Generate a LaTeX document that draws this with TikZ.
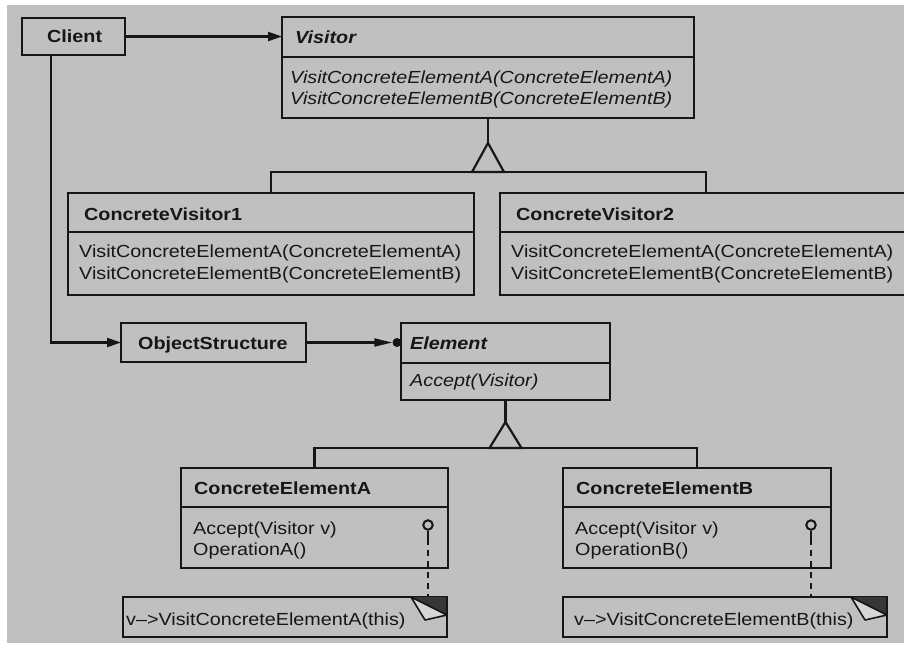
\documentclass[tikz,border=0pt]{standalone}
\usepackage{fontspec}
\setmainfont[FakeStretch=1.13]{Liberation Sans}
\usetikzlibrary{arrows.meta}
\definecolor{paper}{RGB}{192,192,192}
\definecolor{ink}{RGB}{22,22,22}
\definecolor{fold}{RGB}{55,55,55}
\definecolor{flap}{RGB}{214,214,214}
\begin{document}
\begin{tikzpicture}[x=1pt,y=-1pt,
  every node/.style={font=\fontsize{17.5}{22}\selectfont, text=ink},
  box/.style={draw=ink, line width=2.2pt, anchor=north west, inner sep=0pt, outer sep=0pt},
  txt/.style={anchor=base west, inner sep=0pt},
  wire/.style={draw=ink, line width=2.2pt},
  arr/.style={wire, -{Triangle[length=14pt,width=9pt]}},
  arrlong/.style={wire, -{Triangle[length=18pt,width=8pt]}},
  lolly/.style={circle, draw=ink, line width=2pt, minimum size=9.5pt, inner sep=0pt},
  dotnode/.style={circle, fill=ink, minimum size=9pt, inner sep=0pt},
  dashline/.style={draw=ink, line width=2.2pt, dash pattern=on 6pt off 5pt}]
\useasboundingbox (0,0) rectangle (904,651);
\clip (0,0) rectangle (904,651);
\fill[white] (0,0) rectangle (904,651);
\fill[paper] (7,5) rectangle (904,643);

% boxes
\node[box, minimum width=103pt, minimum height=37pt] (client) at (22,18) {};
\node[box, minimum width=412pt, minimum height=101pt] (visitor) at (282,17) {};
\node[box, minimum width=406pt, minimum height=102pt] (cv1) at (68,193) {};
\node[box, minimum width=412pt, minimum height=102pt] (cv2) at (500,193) {};
\node[box, minimum width=185pt, minimum height=39pt] (objstr) at (121,323) {};
\node[box, minimum width=209pt, minimum height=77pt] (element) at (401,323) {};
\node[box, minimum width=267pt, minimum height=100pt] (cea) at (181,468) {};
\node[box, minimum width=268pt, minimum height=100pt] (ceb) at (563,468) {};
\node[box, minimum width=324pt, minimum height=40pt] (notea) at (123,597) {};
\node[box, minimum width=324pt, minimum height=40pt] (noteb) at (563,597) {};

% compartment dividers
\draw[wire] (visitor.west |- 0,57) -- (visitor.east |- 0,57);
\draw[wire] (cv1.west |- 0,232) -- (cv1.east |- 0,232);
\draw[wire] (cv2.west |- 0,232) -- (cv2.east |- 0,232);
\draw[wire] (element.west |- 0,363) -- (element.east |- 0,363);
\draw[wire] (cea.west |- 0,507) -- (cea.east |- 0,507);
\draw[wire] (ceb.west |- 0,507) -- (ceb.east |- 0,507);

% texts
\node[txt] (tclient) at (47,42) {\bfseries Client};
\node[txt] (tvisitor) at (295,43) {\bfseries\itshape Visitor};
\node[txt] (tvop1) at (290,83) {\itshape VisitConcreteElementA(ConcreteElementA)};
\node[txt] (tvop2) at (290,104) {\itshape VisitConcreteElementB(ConcreteElementB)};
\node[txt] (tcv1) at (84,220) {\bfseries ConcreteVisitor1};
\node[txt] (tcv1a) at (79,257) {VisitConcreteElementA(ConcreteElementA)};
\node[txt] (tcv1b) at (79,279) {VisitConcreteElementB(ConcreteElementB)};
\node[txt] (tcv2) at (516,220) {\bfseries ConcreteVisitor2};
\node[txt] (tcv2a) at (511,257) {VisitConcreteElementA(ConcreteElementA)};
\node[txt] (tcv2b) at (511,279) {VisitConcreteElementB(ConcreteElementB)};
\node[txt] (tobj) at (138,349) {\bfseries ObjectStructure};
\node[txt] (telem) at (410,349) {\bfseries\itshape Element};
\node[txt] (telop) at (410,386) {\itshape Accept(Visitor)};
\node[txt] (tcea) at (194,494) {\bfseries ConcreteElementA};
\node[txt] (tcea1) at (193,534) {Accept(Visitor v)};
\node[txt] (tcea2) at (193,555) {OperationA()};
\node[txt] (tceb) at (576,494) {\bfseries ConcreteElementB};
\node[txt] (tceb1) at (575,534) {Accept(Visitor v)};
\node[txt] (tceb2) at (575,555) {OperationB()};
\node[txt] (tnotea) at (126,625) {v–>VisitConcreteElementA(this)};
\node[txt] (tnoteb) at (574,625) {v–>VisitConcreteElementB(this)};

% associations
\draw[arr] (client.east) -- (visitor.west |- client.east);
\draw[arr] ([xshift=29pt]client.south west) |- (objstr.west);
\node[dotnode] (dot) at ([xshift=-4pt]element.west |- objstr.east) {};
\draw[arrlong] (objstr.east) -- (dot.west);

% inheritance Visitor
\draw[wire] (visitor.south) -- ++(0,25) coordinate (vapex);
\draw[wire, line join=miter] (vapex) -- ++(-16,29) -- ++(32,0) -- cycle;
\draw[wire] (cv1.north) -- ++(0,-21) -| (cv2.north);

% inheritance Element
\draw[wire] (element.south) -- ++(0,22) coordinate (eapex);
\draw[wire, line join=miter] (eapex) -- ++(-16,26) -- ++(32,0) -- cycle;
\draw[wire] (cea.north) -- ++(0,-20) -| (ceb.north);

% note links
\node[lolly] (la) at (428,525) {};
\draw[wire] (la.south) -- ++(0,8) coordinate (la2);
\draw[dashline] (la2) -- (la2 |- notea.north);
\node[lolly] (lb) at (811,525) {};
\draw[wire] (lb.south) -- ++(0,8) coordinate (lb2);
\draw[dashline] (lb2) -- (lb2 |- noteb.north);

% folded corners
\fill[fold] ([xshift=-36pt]notea.north east) -- (notea.north east) -- ([yshift=-18pt]notea.north east) -- cycle;
\draw[wire, line width=1.6pt, fill=flap, line join=round] ([xshift=-36pt]notea.north east) -- ([yshift=-18pt]notea.north east) -- ([xshift=-22pt,yshift=-23pt]notea.north east) -- cycle;
\fill[fold] ([xshift=-36pt]noteb.north east) -- (noteb.north east) -- ([yshift=-18pt]noteb.north east) -- cycle;
\draw[wire, line width=1.6pt, fill=flap, line join=round] ([xshift=-36pt]noteb.north east) -- ([yshift=-18pt]noteb.north east) -- ([xshift=-22pt,yshift=-23pt]noteb.north east) -- cycle;
\draw[wire] (notea.north east) -- (notea.south east);
\draw[wire] (noteb.north east) -- (noteb.south east);
\end{tikzpicture}
\end{document}
